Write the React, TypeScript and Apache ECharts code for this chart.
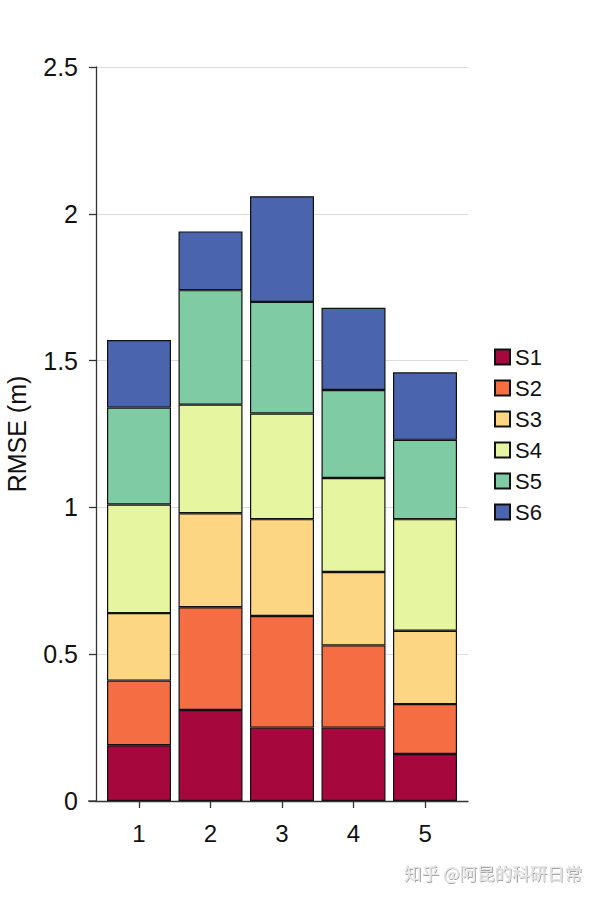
import React, { useEffect, useRef } from "react";
import * as echarts from "echarts";

const categories = [1, 2, 3, 4, 5];
const seriesNames = ["S1", "S2", "S3", "S4", "S5", "S6"];
const s1 = [0.19, 0.31, 0.25, 0.25, 0.16];
const s2 = [0.22, 0.35, 0.38, 0.28, 0.17];
const s3 = [0.23, 0.32, 0.33, 0.25, 0.25];
const s4 = [0.37, 0.37, 0.36, 0.32, 0.38];
const s5 = [0.33, 0.39, 0.38, 0.30, 0.27];
const s6 = [0.23, 0.20, 0.36, 0.28, 0.23];
const yTicks = [0, 0.5, 1, 1.5, 2, 2.5];
const colors = ["#A6073C", "#F46D43", "#FDD683", "#E6F5A0", "#7FCBA4", "#4A65AE"];

export default function App() {
  const ref = useRef<HTMLDivElement>(null);
  useEffect(() => {
    if (!ref.current) return;
    const chart = echarts.init(ref.current, undefined, { renderer: "svg" });
    const all = [s1, s2, s3, s4, s5, s6];
    const font = "Liberation Sans, Arial, sans-serif";
    chart.setOption({
      animation: false,
      color: colors,
      grid: [
        { left: 96, right: 132, top: 67, bottom: 99, containLabel: false, outerBoundsMode: "none" },
        { left: 103.25, width: 357.5, top: 67, bottom: 99, containLabel: false, outerBoundsMode: "none" },
      ],
      legend: {
        orient: "vertical",
        left: 494,
        top: 346,
        padding: 0,
        icon: "rect",
        itemWidth: 15,
        itemHeight: 15,
        itemGap: 9,
        textStyle: { fontSize: 22, color: "#111", fontFamily: font },
        data: seriesNames,
      },
      xAxis: [
        {
          type: "value",
          gridIndex: 0,
          min: 0.4,
          max: 5.6,
          splitLine: { show: false },
          axisLine: { show: true, onZero: false, lineStyle: { color: "#333", width: 1.3 } },
          axisTick: { show: true, length: 7, customValues: categories, lineStyle: { color: "#333", width: 1.3 } },
          axisLabel: {
            customValues: categories,
            fontSize: 24,
            color: "#111",
            fontFamily: font,
            margin: 20,
            formatter: (v: number) => String(v),
          },
        },
        {
          type: "category",
          gridIndex: 1,
          data: categories.map(String),
          show: false,
        },
      ],
      yAxis: [
        {
          type: "value",
          gridIndex: 0,
          min: 0,
          max: 2.5,
          interval: 0.5,
          name: "RMSE (m)",
          nameLocation: "middle",
          nameGap: 67,
          nameTextStyle: { fontSize: 25, color: "#111", fontFamily: font },
          axisLine: { show: true, onZero: false, lineStyle: { color: "#333", width: 1.3 } },
          axisTick: { show: true, length: 7, lineStyle: { color: "#333", width: 1.3 } },
          axisLabel: {
            fontSize: 25,
            color: "#111",
            fontFamily: font,
            margin: 18,
            formatter: (v: number) => (yTicks.includes(v) ? String(v) : ""),
          },
          splitLine: { show: true, lineStyle: { color: "#dcdcdc", width: 1 } },
        },
        {
          type: "value",
          gridIndex: 1,
          min: 0,
          max: 2.5,
          show: false,
          splitLine: { show: false },
        },
      ],
      series: all.map((arr, i) => ({
        name: seriesNames[i],
        type: "bar",
        stack: "total",
        xAxisIndex: 1,
        yAxisIndex: 1,
        barWidth: 64,
        data: arr,
        itemStyle: { color: colors[i], borderColor: "#111", borderWidth: 1.2 },
      })),
      graphic: [
        {
          type: "line",
          shape: { x1: 88, y1: 801, x2: 96, y2: 801 },
          style: { stroke: "#333", lineWidth: 1.3 },
        },
        {
          type: "text",
          left: 404,
          top: 864,
          style: {
            text: "知乎 @阿昆的科研日常",
            fontSize: 17.5,
            fill: "#e4e4e4",
            fontFamily: "Noto Sans CJK SC, sans-serif",
            textShadowColor: "rgba(0,0,0,0.35)",
            textShadowBlur: 1,
            textShadowOffsetX: 1,
            textShadowOffsetY: 1,
          },
        },
      ],
    });
    return () => chart.dispose();
  }, []);
  return <div ref={ref} style={{ position: "absolute", left: 0, top: 0, width: 600, height: 900 }} />;
}
